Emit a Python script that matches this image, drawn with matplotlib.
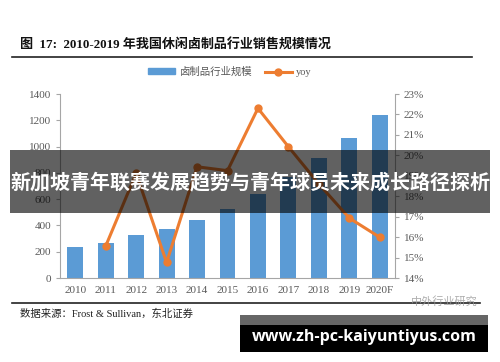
import numpy as np
import matplotlib.pyplot as plt
from matplotlib.patches import Rectangle, Patch
from matplotlib.lines import Line2D

# data
years = ['2010', '2011', '2012', '2013', '2014', '2015', '2016', '2017', '2018', '2019', '2020F']
market_size = [235, 266, 325, 370, 441, 525, 638, 768, 911, 1068, 1238]
yoy = [None, 15.56, 19.12, 14.76, 19.44, 19.25, 22.3, 20.42, 18.6, 16.93, 15.99]

cjk = ['Liberation Serif', 'Noto Sans CJK SC']
W, H = 500, 362

fig = plt.figure(figsize=(5, 3.62), dpi=100)
fig.patch.set_facecolor('white')

def fx(px):
    return px / W

def fy(py):
    return 1 - py / H

ax = fig.add_axes([fx(60), fy(278), fx(395) - fx(60), fy(94) - fy(278)])
x = np.arange(len(years))
ax.bar(x, market_size, width=0.52, color='#5B9BD5', zorder=2)
ax.set_xlim(-0.5, len(years) - 0.5)
ax.set_ylim(0, 1400)
ax.set_yticks(range(0, 1401, 200))
ax.set_xticks(x)
ax.set_xticklabels(years)

ax2 = ax.twinx()
yx = [i for i, v in enumerate(yoy) if v is not None]
yv = [v for v in yoy if v is not None]
ax2.plot(yx, yv, color='#ED7D31', lw=2.2, marker='o', ms=5, zorder=3)
ax2.set_ylim(14, 23)
ax2.set_yticks(range(14, 24))
ax2.set_yticklabels([f'{v}%' for v in range(14, 24)])

grey = '#595959'
for a in (ax, ax2):
    for s in a.spines.values():
        s.set_color('#A6A6A6')
        s.set_linewidth(0.8)
    a.spines['top'].set_visible(False)
    a.tick_params(colors='#A6A6A6', labelcolor=grey, labelsize=8, length=3, width=0.8)
    for lab in a.get_xticklabels() + a.get_yticklabels():
        lab.set_family('Liberation Serif')
ax.tick_params(axis='x', length=0, pad=6)
ax.spines['right'].set_visible(False)
ax2.spines['left'].set_visible(False)
ax2.spines['bottom'].set_visible(False)

# title and rules
fig.text(fx(20), fy(45), '图  17:  2010-2019 年我国休闲卤制品行业销售规模情况',
         family=cjk, fontsize=9.4, fontweight='bold', va='center', color='#111111')
fig.add_artist(Line2D([fx(12), fx(472)], [fy(57), fy(57)], color='#222222', lw=1.2))
fig.add_artist(Line2D([fx(12), fx(480)], [fy(303), fy(303)], color='#222222', lw=1.2))

# legend
handles = [Patch(color='#5B9BD5'),
           Line2D([0], [0], color='#ED7D31', lw=2.2, marker='o', ms=5)]
fig.legend(handles, ['卤制品行业规模', 'yoy'], loc='center', bbox_to_anchor=(fx(230), fy(72)),
           ncol=2, frameon=False, prop={'family': cjk, 'size': 7.5}, labelcolor=grey,
           handlelength=2.6, handleheight=0.5, columnspacing=1.2, handletextpad=0.4)

# source and watermark
fig.text(fx(20), fy(314), '数据来源：Frost & Sullivan，东北证券', family=cjk,
         fontsize=7.5, color='#222222', va='center')
fig.text(fx(478), fy(301), '中外行业研究', family=['Noto Sans CJK SC'], fontsize=8,
         color='#9a9a9a', ha='right', va='center', alpha=0.8)

# overlay banner
fig.add_artist(Rectangle((fx(10), fy(213)), fx(490) - fx(10), fy(150) - fy(213),
                         transform=fig.transFigure, facecolor='black', alpha=0.62,
                         edgecolor='none', zorder=10))
fig.text(0.5, fy(183), '新加坡青年联赛发展趋势与青年球员未来成长路径探析',
         family=['Noto Sans CJK SC'], fontsize=14.4, fontweight='bold', color='white',
         ha='center', va='center', zorder=11)

# url box
fig.add_artist(Rectangle((fx(240), fy(325)), fx(488) - fx(240), fy(315) - fy(325),
                         transform=fig.transFigure, facecolor='#666666', edgecolor='none', zorder=10))
fig.add_artist(Rectangle((fx(240), fy(352)), fx(488) - fx(240), fy(325) - fy(352),
                         transform=fig.transFigure, facecolor='black', edgecolor='none', zorder=10))
fig.text(fx(364), fy(337), 'www.zh-pc-kaiyuntiyus.com', family=['Open Sans', 'DejaVu Sans'],
         fontsize=11.5, fontweight='bold', color='white', ha='center', va='center', zorder=11)

fig.savefig('out.png', dpi=100)
